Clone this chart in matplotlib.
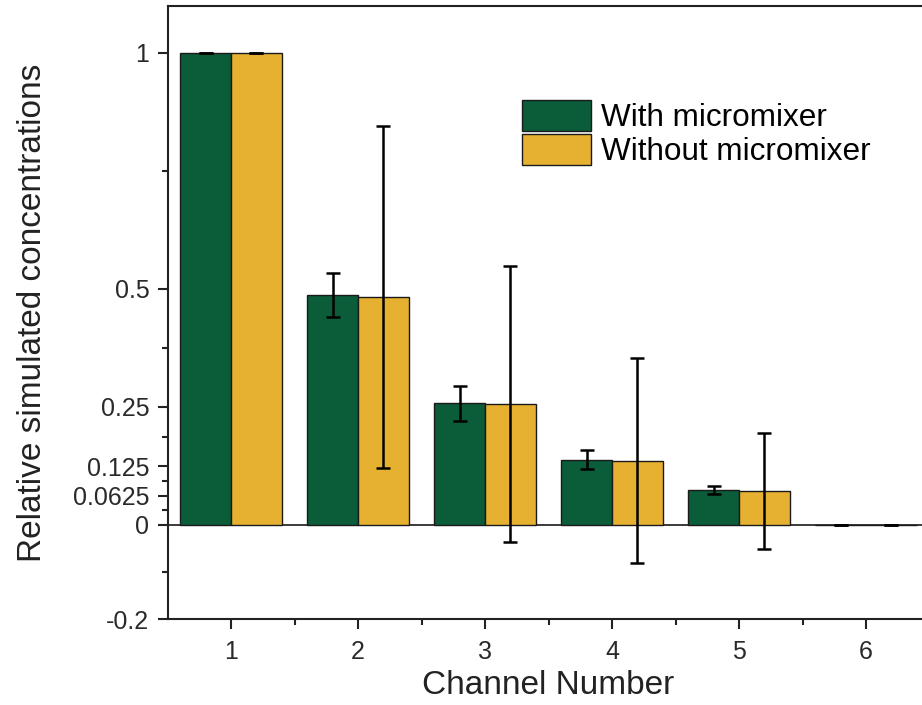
import matplotlib.pyplot as plt
import numpy as np
from matplotlib.ticker import FixedLocator

plt.rcParams['font.family'] = ['Liberation Sans', 'DejaVu Sans']

# dane
channels = [1, 2, 3, 4, 5, 6]
with_mixer = [1.0, 0.487, 0.258, 0.138, 0.074, 0.0]
with_err = [0.0, 0.047, 0.037, 0.020, 0.008, 0.0]
without_mixer = [1.0, 0.483, 0.256, 0.136, 0.072, 0.0]
without_err = [0.0, 0.362, 0.292, 0.217, 0.123, 0.0]

y_major = [-0.2, 0, 0.0625, 0.125, 0.25, 0.5, 1]
y_labels = ["-0.2", "0", "0.0625", "0.125", "0.25", "0.5", "1"]
y_minor = [-0.1, 0.03125, 0.09375, 0.1875, 0.375, 0.75]

green = "#0b5c39"
yellow = "#e6b130"

fig = plt.figure(figsize=(9.22, 7.05), dpi=100)
ax = fig.add_axes([167.5 / 922, 1 - 619.4 / 705, 762 / 922, 1.3 * 472 / 705])

x = np.array(channels)
w = 0.4
ax.bar(x - w / 2, with_mixer, w, color=green, edgecolor="#1a1a1a", linewidth=1,
       label="With micromixer", zorder=2)
ax.bar(x + w / 2, without_mixer, w, color=yellow, edgecolor="#1a1a1a", linewidth=1,
       label="Without micromixer", zorder=2)
ax.errorbar(x - w / 2, with_mixer, yerr=with_err, fmt="none", ecolor="black",
            elinewidth=1.8, capsize=5, capthick=1.8, zorder=3)
ax.errorbar(x + w / 2, without_mixer, yerr=without_err, fmt="none", ecolor="black",
            elinewidth=1.8, capsize=5, capthick=1.8, zorder=3)

ax.axhline(0, color="#1a1a1a", linewidth=1.2, zorder=1)

ax.set_xlim(0.5, 6.5)
ax.set_ylim(-0.2, 1.1)
ax.set_xticks(channels)
ax.xaxis.set_minor_locator(FixedLocator(np.arange(1.5, 6.5, 1)))
ax.set_yticks(y_major)
ax.set_yticklabels(y_labels)
ax.yaxis.set_minor_locator(FixedLocator(y_minor))

ax.tick_params(axis="both", which="major", length=7, width=1.5, labelsize=18,
               color="#222222", labelcolor="#2a2a2a")
ax.tick_params(axis="both", which="minor", length=4.5, width=1.5, color="#222222")
ax.tick_params(axis="x", pad=8)
ax.tick_params(axis="y", pad=6)
for s in ax.spines.values():
    s.set_linewidth(1.5)
    s.set_color("#222222")

ax.set_xlabel("Channel Number", fontsize=24, color="#222222", labelpad=4)
ax.set_ylabel("Relative simulated concentrations", fontsize=24, color="#222222", labelpad=18)

ax.legend(loc="upper left", bbox_to_anchor=(0.465, 0.8465), frameon=False, fontsize=22.7,
          handlelength=2.2, handleheight=1.15, labelspacing=0.02, handletextpad=0.3,
          borderpad=0, borderaxespad=0)

fig.savefig("out.png", dpi=100)
